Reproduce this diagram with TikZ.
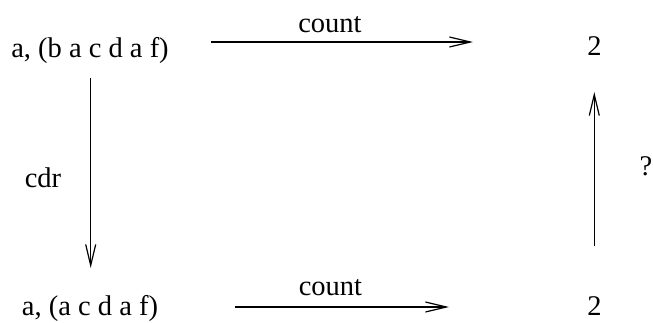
\documentclass[tikz,border=0pt]{standalone}
\usepackage{fontspec}
\setmainfont{Liberation Serif}
\usetikzlibrary{arrows.meta}
\begin{document}
\begin{tikzpicture}[x=1pt,y=-1pt,
  lbl/.style={font=\fontsize{28.5}{33}\selectfont, inner sep=0pt, anchor=base},
  arr/.style={line width=1.2pt, -{Straight Barb[length=21pt,width=10pt,line width=1.2pt]}}]
\useasboundingbox (0,0) rectangle (653,322);
\node[lbl] (tl) at (90,57) {a, (b a c d a f)};
\node[lbl] (tr) at (594.5,55) {2};
\node[lbl] (bl) at (90,315) {a, (a c d a f)};
\node[lbl] (br) at (594.5,315) {2};
\node[lbl] (c1) at (330,32) {count};
\node[lbl] (c2) at (330.5,295) {count};
\node[lbl] (cdr) at (43,187) {cdr};
\node[lbl] (q) at (646,175) {?};
\coordinate (a1s) at (211,42); \coordinate (a1e) at (473,42);
\coordinate (a2s) at (235,307); \coordinate (a2e) at (449,307);
\coordinate (v1s) at (90.7,78); \coordinate (v1e) at (90.7,268);
\coordinate (v2s) at (594.3,246); \coordinate (v2e) at (594.3,92);
\draw[arr] (a1s) -- (a1e);
\draw[arr] (a2s) -- (a2e);
\draw[arr] (v1s) -- (v1e);
\draw[arr] (v2s) -- (v2e);
\end{tikzpicture}
\end{document}
